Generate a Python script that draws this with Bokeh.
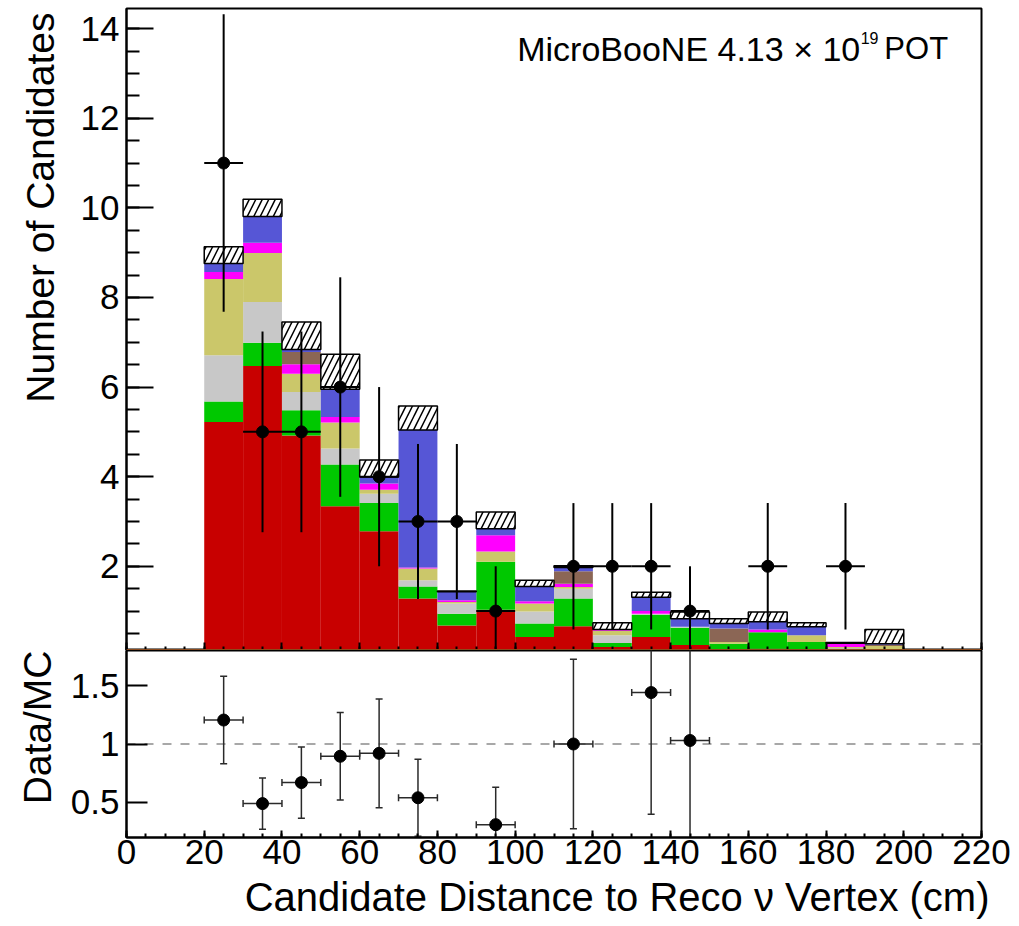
import numpy as np
from bokeh.plotting import figure
from bokeh.layouts import column
from bokeh.models import (ColumnDataSource, SingleIntervalTicker, FixedTicker,
                          Label, Span, Title, CustomJSTickFormatter)
from bokeh.embed import file_html
from bokeh.resources import INLINE

FONT = "Liberation Sans"

# ---- binning (cm) ----
bin_lo = [20, 30, 40, 50, 60, 70, 80, 90, 100, 110, 120, 130, 140, 150, 160, 170, 180, 190]
bin_width = 10

# ---- stacked MC components (events per bin), bottom to top ----
comp_red     = [5.22, 6.47, 4.92, 3.34, 2.78, 1.28, 0.68, 1.03, 0.42, 0.66, 0.20, 0.42, 0.24, 0.15, 0.16, 0.12, 0.10, 0.05]
comp_green   = [0.46, 0.52, 0.56, 0.93, 0.63, 0.27, 0.26, 1.07, 0.30, 0.62, 0.09, 0.49, 0.39, 0.12, 0.37, 0.19, 0.00, 0.00]
comp_grey    = [1.03, 0.91, 0.41, 0.36, 0.21, 0.14, 0.23, 0.00, 0.27, 0.22, 0.17, 0.03, 0.02, 0.00, 0.00, 0.00, 0.07, 0.05]
comp_khaki   = [1.70, 1.09, 0.41, 0.58, 0.09, 0.26, 0.03, 0.23, 0.18, 0.04, 0.10, 0.00, 0.00, 0.04, 0.00, 0.15, 0.03, 0.12]
comp_magenta = [0.16, 0.23, 0.21, 0.12, 0.14, 0.02, 0.04, 0.36, 0.05, 0.07, 0.03, 0.06, 0.00, 0.00, 0.06, 0.00, 0.07, 0.00]
comp_brown   = [0.00, 0.00, 0.27, 0.00, 0.00, 0.00, 0.00, 0.00, 0.00, 0.28, 0.00, 0.00, 0.00, 0.30, 0.00, 0.00, 0.00, 0.03]
comp_blue    = [0.19, 0.59, 0.06, 0.62, 0.14, 3.07, 0.19, 0.15, 0.33, 0.08, 0.00, 0.31, 0.18, 0.11, 0.17, 0.19, 0.01, 0.02]
comp_hatch   = [0.37, 0.38, 0.61, 0.78, 0.38, 0.54, 0.02, 0.37, 0.14, 0.04, 0.15, 0.11, 0.15, 0.11, 0.22, 0.09, 0.02, 0.32]

comp_names = ["red", "green", "grey", "khaki", "magenta", "brown", "blue", "hatch"]
comp_colors = ["#c80000", "#00c800", "#c8c8c8", "#cbc76a", "#ff00ff", "#8b6655", "#5656d6", "white"]

# ---- data ----
data_counts = [11, 5, 5, 6, 4, 3, 3, 1, 0, 2, 2, 2, 1, 0, 2, 0, 2, 0]
data_err    = [3.32, 2.24, 2.24, 2.45, 2.0, 1.73, 1.73, 1.0, 0.0, 1.41, 1.41, 1.41, 1.0, 0.0, 1.41, 0.0, 1.41, 0.0]

# ---- data / MC ratio ----
ratio_x   = [25, 35, 45, 55, 65, 75, 95, 115, 135, 145]
ratio_val = [1.205, 0.49, 0.67, 0.895, 0.92, 0.54, 0.31, 1.00, 1.44, 1.03]
ratio_err = [0.375, 0.22, 0.305, 0.375, 0.465, 0.33, 0.32, 0.725, 1.04, 1.05]

centers = [lo + bin_width / 2 for lo in bin_lo]


def axis_title(text, standoff, offset=0, size="39px"):
    # axis title set flush with the top / right end of its axis
    return Title(text=text, align="right", text_font=FONT, text_font_size=size,
                 text_font_style="normal", text_color="black",
                 standoff=standoff, offset=offset)


# ================= main panel =================
p = figure(width=1019, height=650, x_range=(0, 220), y_range=(0.12, 14.45),
           output_backend="svg", toolbar_location=None,
           min_border_left=125, min_border_right=38, min_border_top=8, min_border_bottom=0)

stack_src = ColumnDataSource(dict(x=centers, red=comp_red, green=comp_green, grey=comp_grey,
                                  khaki=comp_khaki, magenta=comp_magenta, brown=comp_brown,
                                  blue=comp_blue, hatch=comp_hatch))
p.vbar_stack(comp_names, x="x", width=bin_width, source=stack_src,
             fill_color=comp_colors,
             line_color=[None] * 7 + ["black"],
             line_width=[0] * 7 + [1.5],
             hatch_pattern=[" "] * 7 + ["/"],
             hatch_color="black", hatch_scale=13, hatch_weight=1.5)

p.add_layout(Span(location=0.125, dimension="width", line_color="#8b4a1c", line_width=2.5))

mask = [c > 0 for c in data_counts]
dx = [c for c, m in zip(centers, mask) if m]
dy = [v for v, m in zip(data_counts, mask) if m]
de = [e for e, m in zip(data_err, mask) if m]
dsrc = ColumnDataSource(dict(x=dx, y=dy,
                             lo=[y - e for y, e in zip(dy, de)], hi=[y + e for y, e in zip(dy, de)],
                             x0=[x - bin_width / 2 for x in dx], x1=[x + bin_width / 2 for x in dx]))
p.segment(x0="x", y0="lo", x1="x", y1="hi", source=dsrc, line_color="black", line_width=2)
p.segment(x0="x0", y0="y", x1="x1", y1="y", source=dsrc, line_color="black", line_width=2)
p.scatter(x="x", y="y", source=dsrc, size=12, color="black")

p.yaxis.ticker = SingleIntervalTicker(interval=2, num_minor_ticks=4)
p.xaxis.ticker = SingleIntervalTicker(interval=20, num_minor_ticks=4)
p.yaxis.major_tick_in = 27
p.yaxis.minor_tick_in = 13
p.xaxis.major_tick_in = 8
p.xaxis.minor_tick_in = 4
p.xaxis.formatter = CustomJSTickFormatter(code="return ''")
p.xaxis.major_label_text_font_size = "1px"
p.xaxis.major_label_standoff = 0

p.add_layout(axis_title("Number of Candidates", 32, offset=4), "left")

p.add_layout(Label(x=188.8, y=13.55, text="MicroBooNE 4.13 \u00d7 10", text_align="right",
                   text_baseline="alphabetic", text_font=FONT, text_font_size="34px",
                   text_color="black"))
p.add_layout(Label(x=188.9, y=13.8, text="19", text_align="left",
                   text_baseline="alphabetic", text_font=FONT, text_font_size="16px",
                   text_color="black"))
p.add_layout(Label(x=211.4, y=13.55, text="POT", text_align="right",
                   text_baseline="alphabetic", text_font=FONT, text_font_size="31px",
                   text_color="black"))

# ================= ratio panel =================
r = figure(width=1019, height=276, x_range=p.x_range, y_range=(0.2, 1.8),
           output_backend="svg", toolbar_location=None,
           min_border_left=125, min_border_right=38, min_border_top=0, min_border_bottom=89)

r.add_layout(Span(location=1, dimension="width", line_color="#8c8c8c", line_dash="9 9",
                  line_width=1.5, level="underlay"))

rsrc = ColumnDataSource(dict(x=ratio_x, y=ratio_val,
                             lo=[v - e for v, e in zip(ratio_val, ratio_err)],
                             hi=[v + e for v, e in zip(ratio_val, ratio_err)],
                             x0=[x - bin_width / 2 for x in ratio_x],
                             x1=[x + bin_width / 2 for x in ratio_x]))
err_col = "#2a2a2a"
r.segment(x0="x", y0="lo", x1="x", y1="hi", source=rsrc, line_color=err_col, line_width=1.5)
r.segment(x0="x0", y0="y", x1="x1", y1="y", source=rsrc, line_color=err_col, line_width=1.5)
r.scatter(x="x", y="lo", source=rsrc, marker="dash", size=7, line_color=err_col, line_width=1.5)
r.scatter(x="x", y="hi", source=rsrc, marker="dash", size=7, line_color=err_col, line_width=1.5)
r.scatter(x="x0", y="y", source=rsrc, marker="dash", angle=np.pi / 2, size=7, line_color=err_col, line_width=1.5)
r.scatter(x="x1", y="y", source=rsrc, marker="dash", angle=np.pi / 2, size=7, line_color=err_col, line_width=1.5)
r.scatter(x="x", y="y", source=rsrc, size=12, color="black")

r.xaxis.ticker = SingleIntervalTicker(interval=20, num_minor_ticks=4)
r.yaxis.ticker = FixedTicker(ticks=[0.5, 1, 1.5], minor_ticks=[])
r.yaxis.major_label_overrides = {0.5: "0.5", 1: "1", 1.5: "1.5"}
r.yaxis.major_tick_in = 21
r.xaxis.major_tick_in = 7
r.xaxis.minor_tick_in = 4
r.xaxis.major_label_standoff = 2
r.xaxis.major_label_text_font_size = "35px"

r.add_layout(axis_title("Data/MC", 18), "left")
r.add_layout(axis_title("Candidate Distance to Reco \u03bd Vertex (cm)", 13, offset=-8, size="40px"),
             "below")

for f in (p, r):
    f.grid.visible = False
    f.background_fill_color = "white"
    f.border_fill_color = "white"
    f.outline_line_color = "black"
    f.outline_line_width = 2
    for ax in (f.xaxis, f.yaxis):
        ax.axis_line_width = 2
        ax.major_tick_out = 0
        ax.minor_tick_out = 0
        ax.major_tick_line_width = 2
        ax.minor_tick_line_width = 2
        ax.major_label_text_font = FONT
        ax.major_label_text_color = "black"
    f.yaxis.major_label_text_font_size = "35px"
    f.yaxis.major_label_standoff = 7

layout = column(p, r, spacing=0)
open("out.html", "w").write(file_html(layout, INLINE))
